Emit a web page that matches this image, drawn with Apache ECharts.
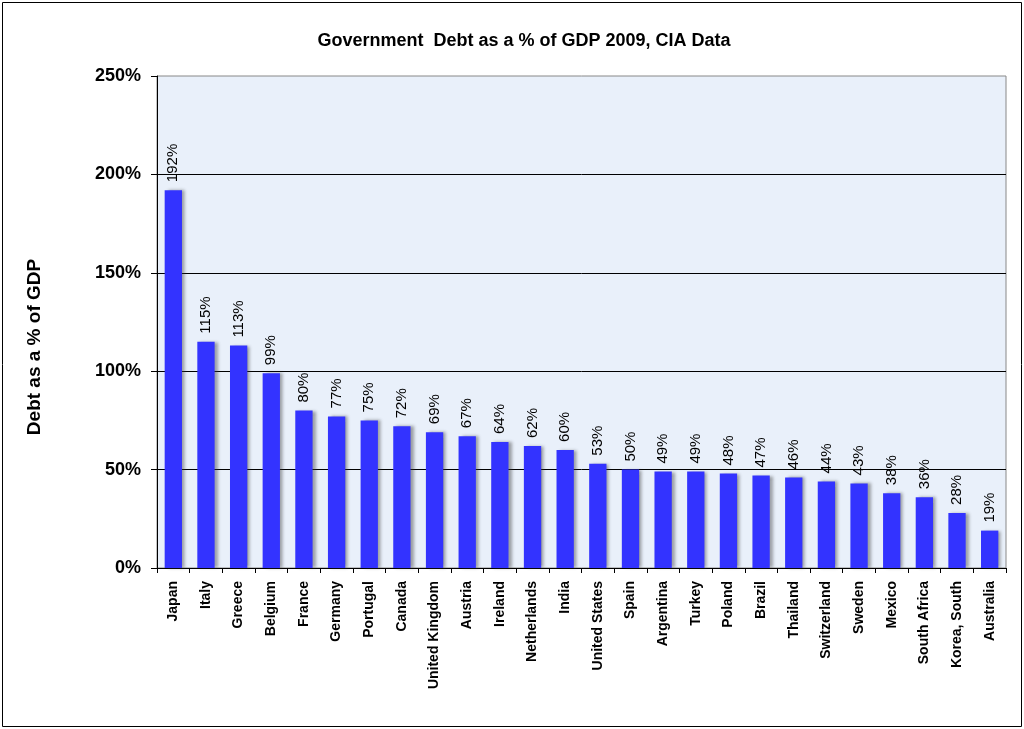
<!DOCTYPE html>
<html>
<head>
<meta charset="utf-8">
<title>Government Debt as a % of GDP 2009</title>
<script src="https://cdn.jsdelivr.net/npm/echarts@6/dist/echarts.min.js"></script>
<style>
    html, body { margin: 0; padding: 0; background: #fff; }
    #chart { width: 1024px; height: 729px; }
</style>
</head>
<body>
<div id="chart"></div>
<script>
/* chart data */
var countries = ['Japan', 'Italy', 'Greece', 'Belgium', 'France', 'Germany', 'Portugal', 'Canada',
    'United Kingdom', 'Austria', 'Ireland', 'Netherlands', 'India', 'United States', 'Spain',
    'Argentina', 'Turkey', 'Poland', 'Brazil', 'Thailand', 'Switzerland', 'Sweden', 'Mexico',
    'South Africa', 'Korea, South', 'Australia'];
var debtPct = [192, 115, 113, 99, 80, 77, 75, 72, 69, 67, 64, 62, 60, 53, 50,
    49, 49, 48, 47, 46, 44, 43, 38, 36, 28, 19];
var yTicks = [0, 50, 100, 150, 200, 250];

var FONT = '"Liberation Sans", Arial, sans-serif';

function debtChart(domId) {
    var chartInstance = echarts.init(document.getElementById(domId));
    var option = {
        animation: false,
        textStyle: { fontFamily: FONT },
        title: {
            text: 'Government  Debt as a % of GDP 2009, CIA Data',
            left: 519,
            top: 27,
            textAlign: 'center',
            textStyle: { fontFamily: FONT, fontSize: 18, fontWeight: 'bold', color: '#000' }
        },
        graphic: [{
            type: 'rect',
            shape: { x: 2.5, y: 2.5, width: 1019, height: 724 },
            style: { fill: 'none', stroke: '#000', lineWidth: 1 },
            silent: true
        }],
        grid: {
            left: 157,
            right: 18,
            top: 76,
            bottom: 161,
            show: true,
            backgroundColor: '#e9f0fa',
            borderColor: '#888',
            borderWidth: 1
        },
        xAxis: {
            type: 'category',
            data: countries,
            axisLine: { lineStyle: { color: '#000', width: 1 } },
            axisTick: { show: true, length: 5, lineStyle: { color: '#000' } },
            axisLabel: {
                rotate: 90,
                interval: 0,
                margin: 13,
                fontFamily: FONT,
                fontSize: 14,
                fontWeight: 'bold',
                color: '#000'
            }
        },
        yAxis: {
            type: 'value',
            min: yTicks[0],
            max: yTicks[yTicks.length - 1],
            interval: 50,
            name: 'Debt as a % of GDP',
            nameLocation: 'middle',
            nameRotate: 90,
            nameGap: 113,
            nameTextStyle: {
                fontFamily: FONT, fontSize: 19, fontWeight: 'bold', color: '#000',
                padding: [0, 50, 0, 0]
            },
            axisLine: { show: true, lineStyle: { color: '#000', width: 1 } },
            axisTick: { show: true, length: 6, lineStyle: { color: '#000' } },
            axisLabel: {
                margin: 16,
                formatter: '{value}%',
                fontFamily: FONT,
                fontSize: 18,
                fontWeight: 'bold',
                color: '#000'
            },
            splitLine: { show: true, showMaxLine: false, lineStyle: { color: '#000', width: 1 } }
        },
        series: [{
            type: 'bar',
            data: debtPct,
            barWidth: '53%',
            itemStyle: {
                color: '#3333ff',
                shadowColor: 'rgba(60,60,60,0.45)',
                shadowOffsetX: 3,
                shadowOffsetY: 0,
                shadowBlur: 3
            },
            label: {
                show: true,
                position: 'top',
                rotate: 90,
                align: 'left',
                verticalAlign: 'middle',
                distance: 8,
                formatter: '{c}%',
                fontFamily: FONT,
                fontSize: 15,
                color: '#000'
            }
        }]
    };
    chartInstance.setOption(option);
    return chartInstance;
}

debtChart('chart');
</script>
</body>
</html>
